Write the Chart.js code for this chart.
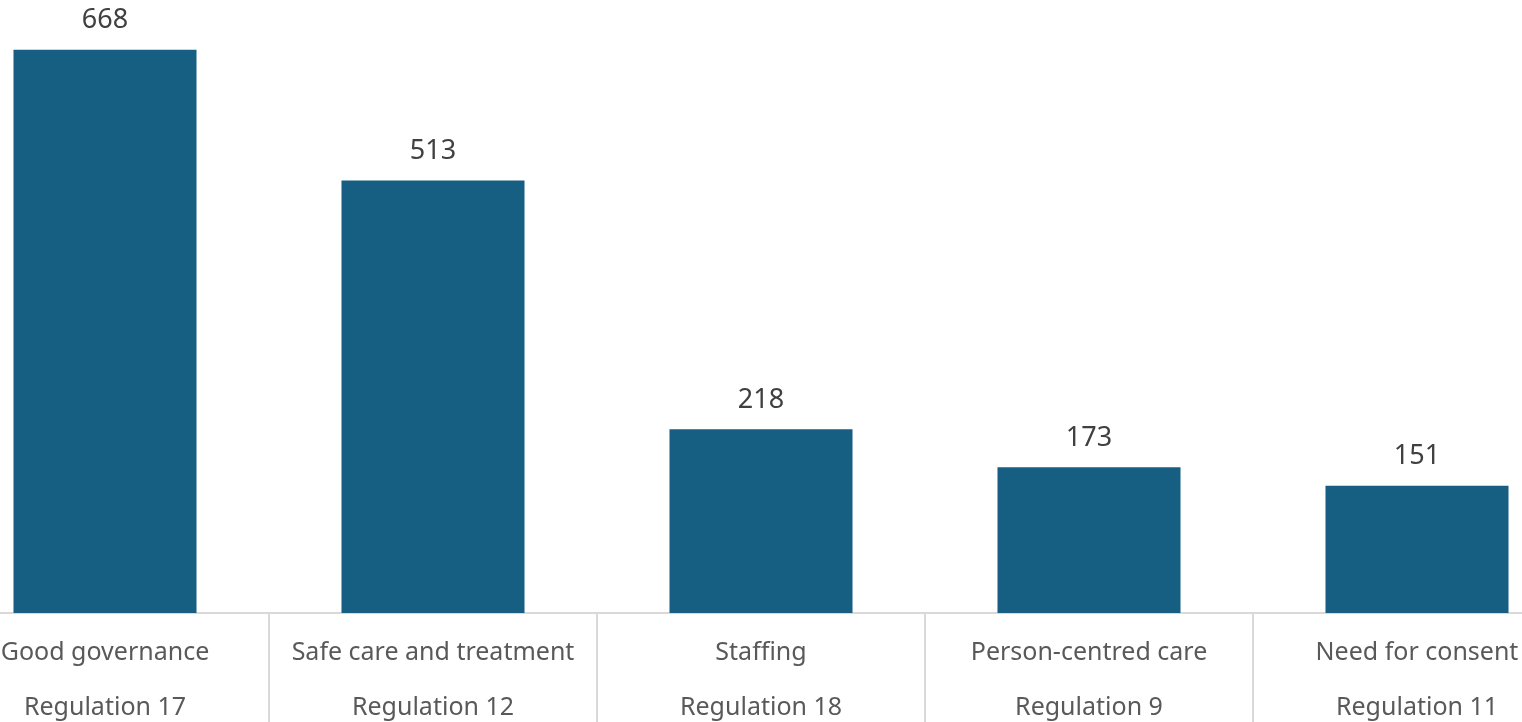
<!DOCTYPE html>
<html>
<head>
<meta charset="utf-8">
<script src="https://cdn.jsdelivr.net/npm/chart.js@4/dist/chart.umd.min.js"></script>
<style>
  html, body { margin: 0; padding: 0; background: #fff; overflow: hidden; }
  #wrap { position: relative; width: 1522px; height: 722px; overflow: hidden; }
  #chart { position: absolute; left: -59px; top: 0; }
</style>
</head>
<body>
<div id="wrap"><canvas id="chart" width="1640" height="722"></canvas></div>
<script>
// Enforcement actions by regulation
const topics = ['Good governance', 'Safe care and treatment', 'Staffing', 'Person-centred care', 'Need for consent'];
const regulations = ['Regulation 17', 'Regulation 12', 'Regulation 18', 'Regulation 9', 'Regulation 11'];
const counts = [668, 513, 218, 173, 151];

const barColour = '#175F82';
const labelColour = '#595959';
const lineColour = '#D9D9D9';
const fontFamily = '"Noto Sans", "Open Sans", sans-serif';

const valueLabels = {
    id: 'valueLabels',
    afterDatasetsDraw(chart) {
        const ctx = chart.ctx;
        const meta = chart.getDatasetMeta(0);
        ctx.save();
        ctx.fillStyle = '#404040';
        ctx.font = '27px ' + fontFamily;
        ctx.textAlign = 'center';
        ctx.textBaseline = 'middle';
        meta.data.forEach((bar, i) => {
            ctx.fillText(String(counts[i]), bar.x, bar.y - 29);
        });
        ctx.restore();
    }
};

// vertical separators between the category groups
const separators = {
    id: 'separators',
    afterDraw(chart) {
        const ctx = chart.ctx;
        const x = chart.scales.x;
        const half = (x.getPixelForValue(1) - x.getPixelForValue(0)) / 2;
        ctx.save();
        ctx.strokeStyle = lineColour;
        ctx.lineWidth = 2;
        for (let i = 0; i < counts.length - 1; i++) {
            const px = Math.round(x.getPixelForValue(i) + half);
            ctx.beginPath();
            ctx.moveTo(px, chart.chartArea.bottom);
            ctx.lineTo(px, chart.height);
            ctx.stroke();
        }
        ctx.restore();
    }
};

new Chart(document.getElementById('chart'), {
    type: 'bar',
    data: {
        labels: topics.map((t, i) => [t, regulations[i]]),
        datasets: [{
            data: counts,
            backgroundColor: barColour,
            borderWidth: 0,
            categoryPercentage: 1,
            barPercentage: 0.558
        }]
    },
    options: {
        responsive: false,
        animation: false,
        layout: { padding: 0 },
        plugins: { legend: { display: false }, tooltip: { enabled: false } },
        scales: {
            y: { display: false, min: 0, max: 727 },
            x: {
                afterFit: (scale) => { scale.height = 109; },
                grid: { display: false, drawTicks: false },
                border: { display: true, color: lineColour, width: 2 },
                ticks: {
                    color: labelColour,
                    padding: 12,
                    maxRotation: 0,
                    autoSkip: false,
                    font: { family: fontFamily, size: 25, lineHeight: 55 / 25 }
                }
            }
        }
    },
    plugins: [valueLabels, separators]
});
</script>
</body>
</html>
